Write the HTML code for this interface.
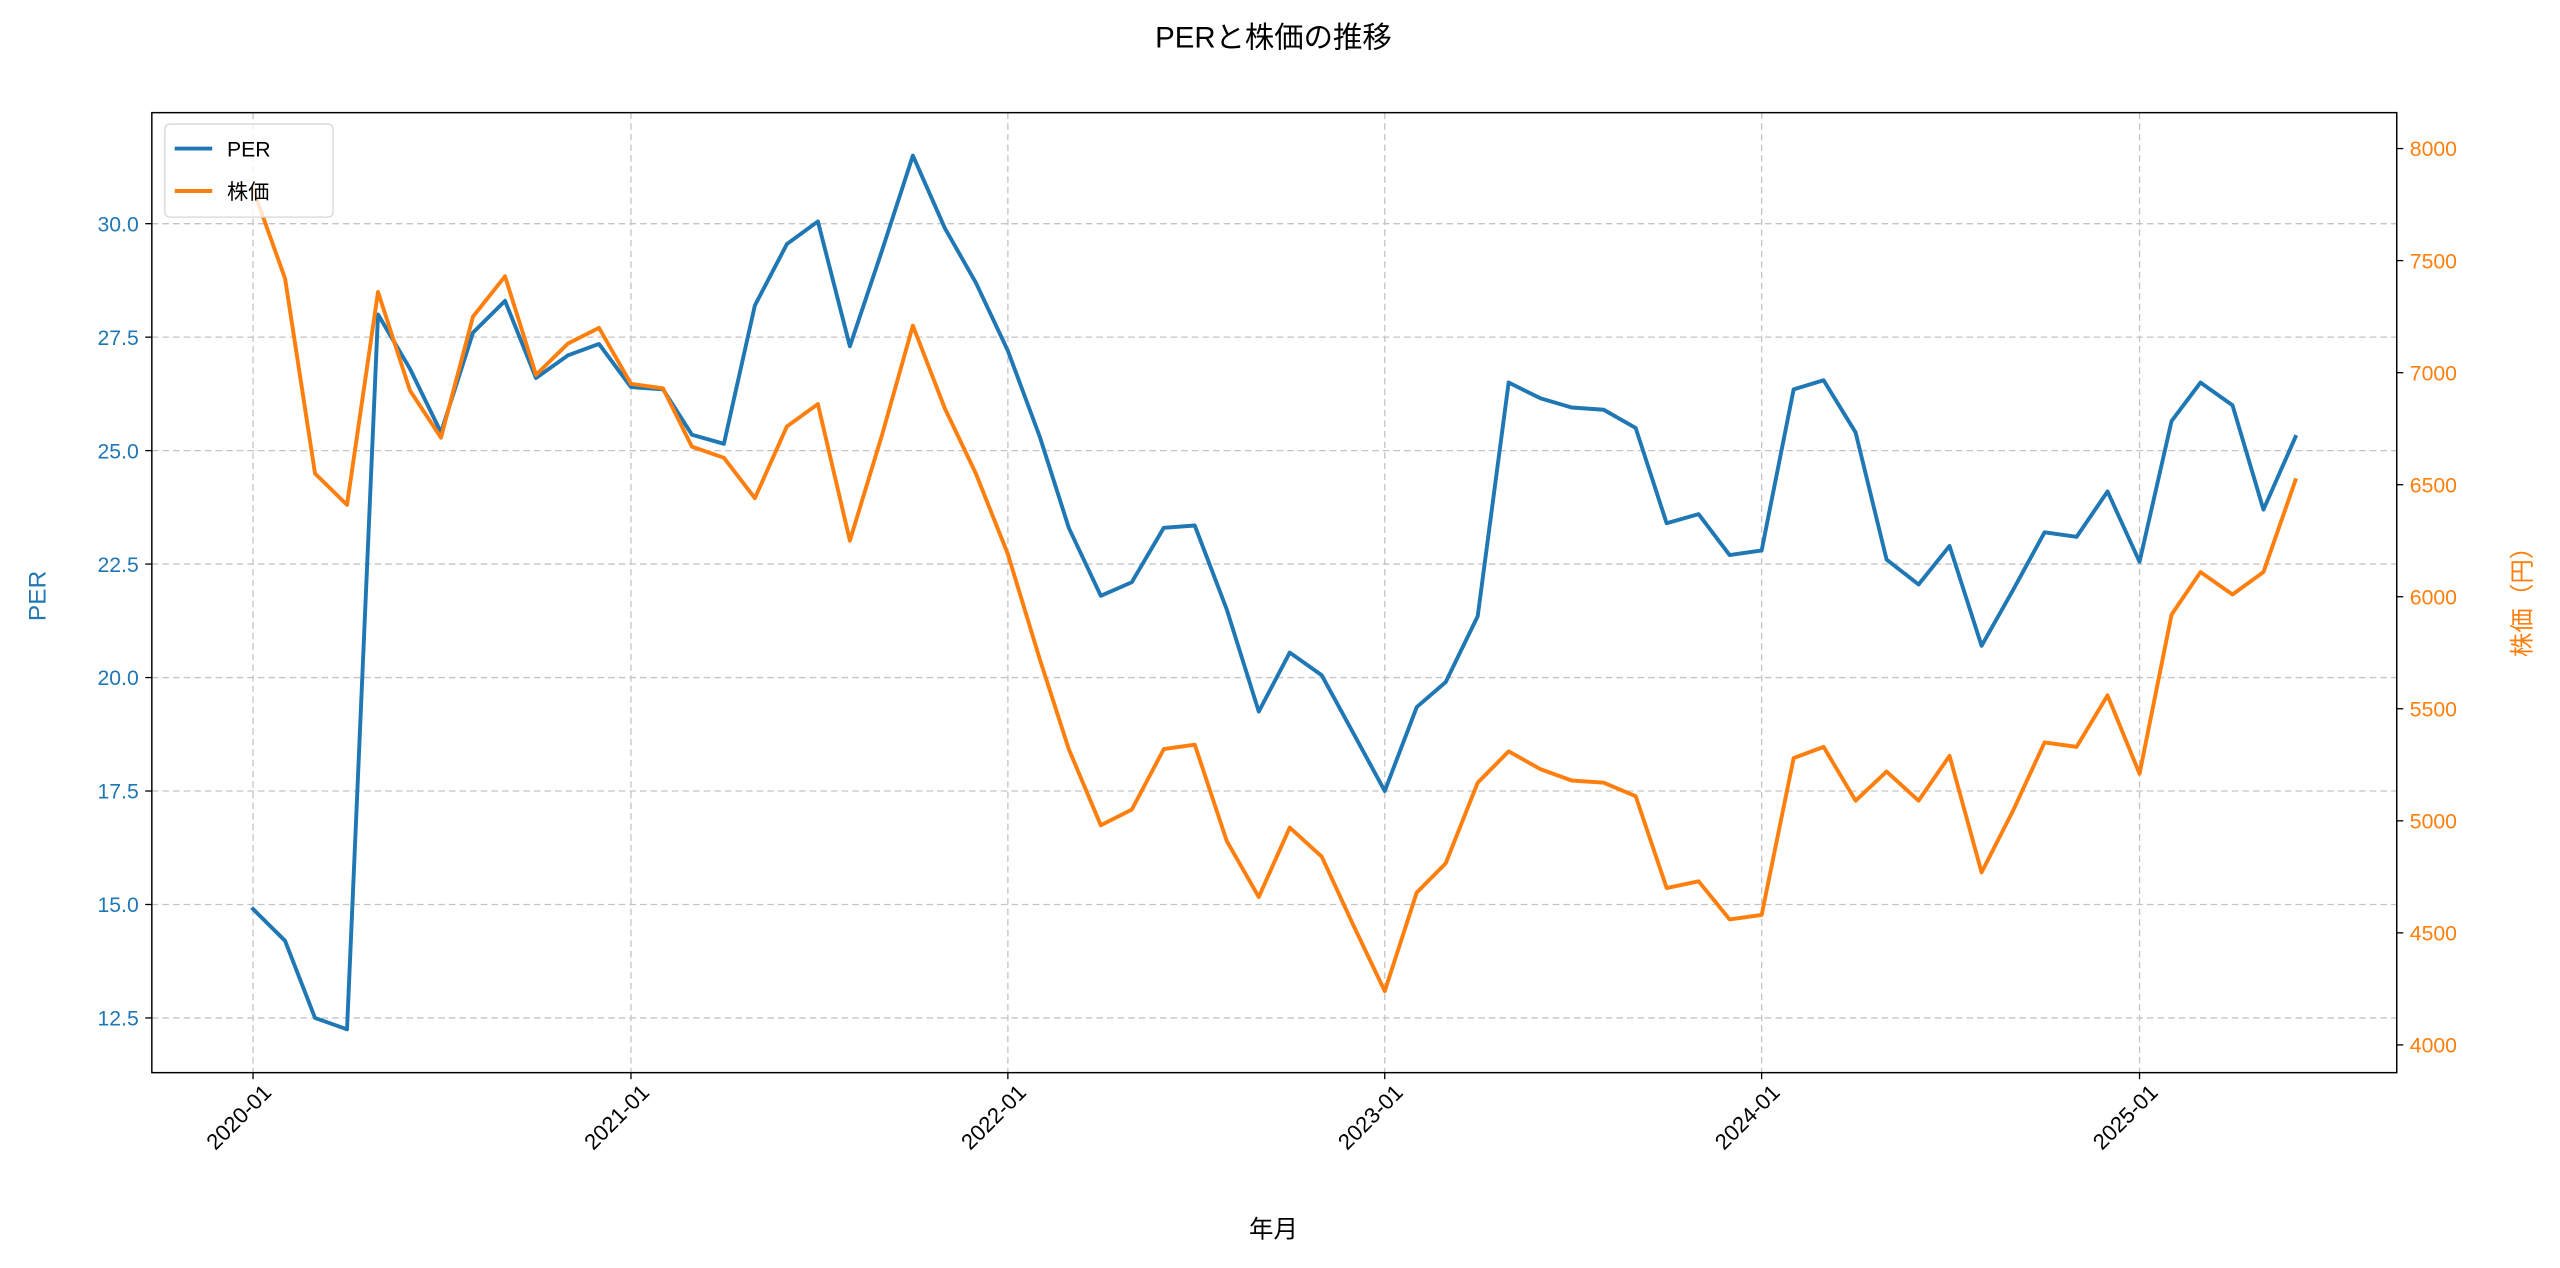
<!DOCTYPE html>
<html><head><meta charset="utf-8"><style>
html,body{margin:0;padding:0;background:#fff;}
svg{display:block;}
text{font-family:"Liberation Sans","Noto Sans CJK JP",sans-serif;}
</style></head><body>
<svg id="chart" width="2560" height="1268" viewBox="0 0 1568 776.65" xmlns="http://www.w3.org/2000/svg">
<rect x="0" y="0" width="1568" height="776.65" fill="#fff"/>
<text x="780" y="29" font-size="18" text-anchor="middle" fill="#000">PERと株価の推移</text>
<g id="grid"></g>
<g id="axes"></g>
<g id="series"></g>
<rect x="93" y="69" width="1375" height="588" fill="none" stroke="#000" stroke-width="0.9"/>
<g>
<rect x="101" y="76" width="103" height="57" rx="3" fill="#fff" fill-opacity="0.8" stroke="#d6d6d6" stroke-width="0.8"/>
<line x1="107" y1="91" x2="130" y2="91" stroke="#1f77b4" stroke-width="2.4"/>
<text x="139" y="96" font-size="13">PER</text>
<line x1="107" y1="117" x2="130" y2="117" stroke="#ff7f0e" stroke-width="2.4"/>
<text x="139" y="122" font-size="13">株価</text>
</g>
<text transform="translate(28,365) rotate(-90)" font-size="15" text-anchor="middle" fill="#1f77b4">PER</text>
<text transform="translate(1550,365) rotate(-90)" font-size="15" text-anchor="middle" fill="#ff7f0e">株価（円）</text>
<text x="780" y="758" font-size="15" text-anchor="middle" fill="#000">年月</text>
</svg>
<script>
const months = [];
for (let i = 0; i < 66; i++) { months.push([2020 + Math.floor(i / 12), i % 12]); }
const perValues = [14.9,14.2,12.5,12.25,28.0,26.8,25.4,27.6,28.3,26.6,27.1,27.35,
26.4,26.35,25.35,25.15,28.2,29.55,30.05,27.3,29.4,31.5,29.9,28.7,
27.2,25.3,23.3,21.8,22.1,23.3,23.35,21.5,19.25,20.55,20.05,18.8,
17.5,19.35,19.9,21.35,26.5,26.15,25.95,25.9,25.5,23.4,23.6,22.7,
22.8,26.35,26.55,25.4,22.6,22.05,22.9,20.7,21.95,23.2,23.1,24.1,
22.55,25.65,26.5,26.0,23.7,25.3];
const priceValues = [7820,7420,6550,6410,7360,6920,6710,7250,7430,6990,7130,7200,
6950,6930,6670,6620,6440,6760,6860,6250,6720,7210,6840,6550,
6190,5720,5320,4980,5050,5320,5340,4910,4660,4970,4840,4540,
4240,4680,4810,5170,5310,5230,5180,5170,5110,4700,4730,4560,
4580,5280,5330,5090,5220,5090,5290,4770,5050,5350,5330,5560,
5210,5920,6110,6010,6110,6520];
const xTickLabels = ["2020-01","2021-01","2022-01","2023-01","2024-01","2025-01"];
const perTicks = [12.5,15.0,17.5,20.0,22.5,25.0,27.5,30.0];
const priceTicks = [4000,4500,5000,5500,6000,6500,7000,7500,8000];

const NS = "http://www.w3.org/2000/svg";
const DAY = 86400000;
const d0 = Date.UTC(2020, 0, 1);
function xScale(y, m) { return 155 + (Date.UTC(y, m, 1) - d0) / DAY * (231 / 365.25); }
function yLeft(v) { return 137 + (30 - v) * 27.8; }
function yRight(p) { return 91 + (8000 - p) * 0.13725; }
function mk(tag, attrs, parent) {
  const e = document.createElementNS(NS, tag);
  for (const k in attrs) e.setAttribute(k, attrs[k]);
  parent.appendChild(e); return e;
}
const grid = document.getElementById('grid');
const axes = document.getElementById('axes');
const series = document.getElementById('series');

xTickLabels.forEach(lbl => {
  const [yy, mm] = lbl.split('-').map(Number);
  const x = xScale(yy, mm - 1);
  const g = mk('line', {x1:x, y1:69, x2:x, y2:657, stroke:'#c4c4c4', 'stroke-width':0.8, 'stroke-dasharray':'4,2.5'}, grid);
  
  
  const t = mk('line', {x1:x, y1:657, x2:x, y2:661, stroke:'#000', 'stroke-width':0.8}, axes);
  
  
  const tx = mk('text', {transform:`translate(${x+12},${670}) rotate(-45)`, 'font-size':13.5, 'text-anchor':'end', fill:'#000'}, axes);
  tx.textContent = lbl;
  
  
});
perTicks.forEach(v => {
  const y = yLeft(v);
  const g = mk('line', {x1:93, y1:y, x2:1468, y2:y, stroke:'#c4c4c4', 'stroke-width':0.8, 'stroke-dasharray':'4,2.5'}, grid);
  
  
  const t = mk('line', {x1:89, y1:y, x2:93, y2:y, stroke:'#000', 'stroke-width':0.8}, axes);
  
  
  const tx = mk('text', {x:85, y:y+4.7, 'font-size':13, 'text-anchor':'end', fill:'#1f77b4'}, axes);
  tx.textContent = v.toFixed(1);
  
  
});
priceTicks.forEach(p => {
  const y = yRight(p);
  const t = mk('line', {x1:1468, y1:y, x2:1472, y2:y, stroke:'#000', 'stroke-width':0.8}, axes);
  
  
  const tx = mk('text', {x:1476, y:y+4.7, 'font-size':13, 'text-anchor':'start', fill:'#ff7f0e'}, axes);
  tx.textContent = String(p);
  
  
});
const perPts = perValues.map((v, i) => xScale(months[i][0], months[i][1]).toFixed(2) + ',' + yLeft(v).toFixed(2)).join(' ');
const perLine = mk('polyline', {points:perPts, fill:'none', stroke:'#1f77b4', 'stroke-width':2.4, 'stroke-linejoin':'round', 'stroke-linecap':'square'}, series);


const prPts = priceValues.map((v, i) => xScale(months[i][0], months[i][1]).toFixed(2) + ',' + yRight(v).toFixed(2)).join(' ');
const prLine = mk('polyline', {points:prPts, fill:'none', stroke:'#ff7f0e', 'stroke-width':2.4, 'stroke-linejoin':'round', 'stroke-linecap':'square'}, series);


</script>
</body></html>
